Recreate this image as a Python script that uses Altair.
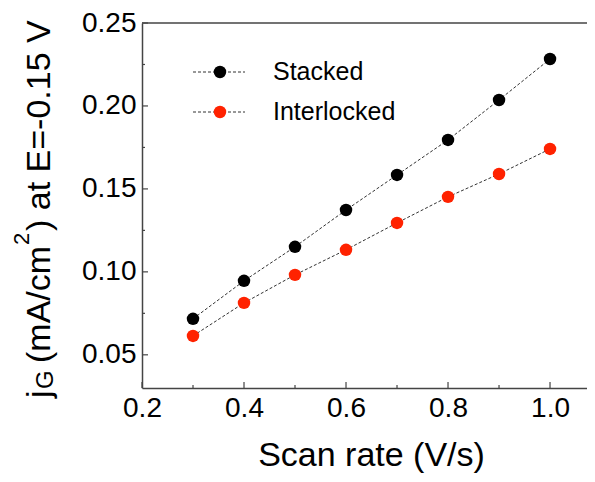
import altair as alt
import pandas as pd

# ---- data ----
scan_rate = [0.3, 0.4, 0.5, 0.6, 0.7, 0.8, 0.9, 1.0]
stacked = [0.0717, 0.0946, 0.1151, 0.1373, 0.1584, 0.1795, 0.2036, 0.2283]
interlocked = [0.0614, 0.0813, 0.0982, 0.1133, 0.1295, 0.1452, 0.1590, 0.1741]
series_names = ["Stacked", "Interlocked"]
series_colors = ["#000000", "#ff2200"]
x_major = [0.2, 0.4, 0.6, 0.8, 1.0]
x_minor = [0.3, 0.5, 0.7, 0.9]
y_major = [0.05, 0.10, 0.15, 0.20, 0.25]
y_minor = [0.075, 0.125, 0.175, 0.225]
x_domain = [0.2, 1.0725]
y_domain = [0.03, 0.25]
x_title = "Scan rate (V/s)"
y_title_parts = ["j", "G", "(mA/cm", "2", ") at E=-0.15 V"]

FONT = "Liberation Sans"
W, H = 445, 365
AX = "#444444"

df = pd.DataFrame({
    "rate": scan_rate * 2,
    "j": stacked + interlocked,
    "series": [series_names[0]] * len(scan_rate) + [series_names[1]] * len(scan_rate),
})
one = pd.DataFrame({"a": [0]})

xs = alt.Scale(domain=x_domain, nice=False, zero=False)
ys = alt.Scale(domain=y_domain, nice=False, zero=False)

x_axis = alt.Axis(values=x_major, format=".1f", title=None, ticks=False, grid=False,
                  labelFont=FONT, labelFontSize=28, labelColor="#000", labelPadding=6,
                  domainColor=AX, domainWidth=1.5, labelFlush=False, labelOverlap=False)
y_axis = alt.Axis(values=y_major, format=".2f", title=None, ticks=False, grid=False,
                  labelFont=FONT, labelFontSize=28, labelColor="#000", labelPadding=6,
                  domainColor=AX, domainWidth=1.5, labelFlush=False, labelOverlap=False)

lines = alt.Chart(df).mark_line(color="#333333", strokeWidth=1, strokeDash=[3, 2]).encode(
    x=alt.X("rate:Q", scale=xs, axis=x_axis),
    y=alt.Y("j:Q", scale=ys, axis=y_axis),
    detail="series:N",
)
points = alt.Chart(df).mark_circle(size=155, opacity=1).encode(
    x=alt.X("rate:Q", scale=xs, axis=x_axis),
    y=alt.Y("j:Q", scale=ys, axis=y_axis),
    color=alt.Color("series:N", scale=alt.Scale(domain=series_names, range=series_colors), legend=None),
)

def xticks(vals, length):
    return alt.Chart(pd.DataFrame({"v": vals})).mark_rule(color=AX, strokeWidth=1.2).encode(
        x=alt.X("v:Q", scale=xs, axis=x_axis), y=alt.value(H), y2=alt.value(H - length))

def yticks(vals, length):
    return alt.Chart(pd.DataFrame({"v": vals})).mark_rule(color=AX, strokeWidth=1.2).encode(
        y=alt.Y("v:Q", scale=ys, axis=y_axis), x=alt.value(0), x2=alt.value(length))

top_border = alt.Chart(one).mark_rule(color=AX, strokeWidth=1.5).encode(
    x=alt.value(0), x2=alt.value(W), y=alt.value(0))

layers = [lines, points, xticks(x_major, 6), xticks(x_minor, 3),
          yticks(y_major, 6), yticks(y_minor, 3), top_border]

# legend
for i, (name, col) in enumerate(zip(series_names, series_colors)):
    ly = 49 + 40 * i
    layers.append(alt.Chart(one).mark_rule(color="#333333", strokeWidth=1, strokeDash=[3, 2]).encode(
        x=alt.value(51), x2=alt.value(103), y=alt.value(ly)))
    layers.append(alt.Chart(one).mark_circle(size=155, opacity=1, color=col).encode(
        x=alt.value(78), y=alt.value(ly)))
    layers.append(alt.Chart(one).mark_text(text=name, align="left", baseline="alphabetic",
                                           fontSize=25, font=FONT, color="#000").encode(
        x=alt.value(131), y=alt.value(ly + 8)))

# x title
layers.append(alt.Chart(one).mark_text(text=x_title, align="center", baseline="alphabetic",
                                       fontSize=34, font=FONT, color="#000").encode(
    x=alt.value(229.5), y=alt.value(443)))

# y title (rotated, with subscript and superscript)
y_piece_pos = [(-92, 375, 34), (-89, 366, 24), (-92, 340, 34), (-113, 222, 22), (-92, 208, 34)]
for txt, (px, py, fs) in zip(y_title_parts, y_piece_pos):
    layers.append(alt.Chart(one).mark_text(text=txt, align="left", baseline="alphabetic",
                                           angle=270, fontSize=fs, font=FONT, color="#000").encode(
        x=alt.value(px), y=alt.value(py)))

chart = alt.layer(*layers).properties(
    width=W, height=H,
    padding={"left": 134, "top": 15, "right": 0, "bottom": 86},
    autosize=alt.AutoSizeParams(type="none"),
).configure_view(stroke=None)

chart.save("out.html", embed_options={"renderer": "svg", "actions": False})
